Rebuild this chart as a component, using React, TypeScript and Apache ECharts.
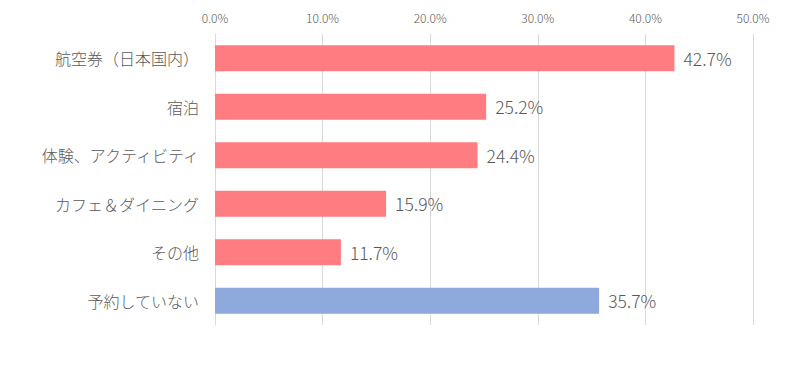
import React, { useEffect, useRef } from "react";
import * as echarts from "echarts";

const categories = ["航空券（日本国内）", "宿泊", "体験、アクティビティ", "カフェ＆ダイニング", "その他", "予約していない"];
const values = [42.7, 25.2, 24.4, 15.9, 11.7, 35.7];
const barColors = ["#FF7C80", "#FF7C80", "#FF7C80", "#FF7C80", "#FF7C80", "#8EA9DB"];

export default function App() {
  const ref = useRef<HTMLDivElement>(null);
  useEffect(() => {
    if (!ref.current) return;
    const chart = echarts.init(ref.current, null, { renderer: "svg" });
    chart.setOption({
      animation: false,
      grid: { left: 207, right: 39, top: 26, bottom: 36 },
      xAxis: {
        type: "value",
        position: "top",
        min: 0,
        max: 50,
        interval: 10,
        axisLine: { show: false },
        axisTick: { show: false },
        splitLine: { lineStyle: { color: "#D9D9D9", width: 1 } },
        axisLabel: {
          formatter: (v: number) => v.toFixed(1) + "%",
          color: "#595959",
          fontSize: 12,
          fontWeight: 300,
          fontFamily: "Noto Sans CJK JP",
          margin: 11,
        },
      },
      yAxis: {
        type: "category",
        inverse: true,
        data: categories,
        axisLine: { show: true, lineStyle: { color: "#D9D9D9" } },
        axisTick: { show: false },
        axisLabel: {
          color: "#595959",
          fontSize: 16,
          fontWeight: 300,
          fontFamily: "Noto Sans CJK JP",
          margin: 16,
        },
      },
      series: [
        {
          type: "bar",
          data: values.map((v, i) => ({ value: v, itemStyle: { color: barColors[i] } })),
          barWidth: "54%",
          label: {
            show: true,
            position: "right",
            distance: 9,
            formatter: (p: any) => p.value.toFixed(1) + "%",
            color: "#595959",
            fontSize: 17.5,
            fontWeight: 300,
            fontFamily: "Noto Sans CJK JP",
          },
        },
      ],
    });
    return () => chart.dispose();
  }, []);
  return <div ref={ref} style={{ width: 784, height: 353 }} />;
}
